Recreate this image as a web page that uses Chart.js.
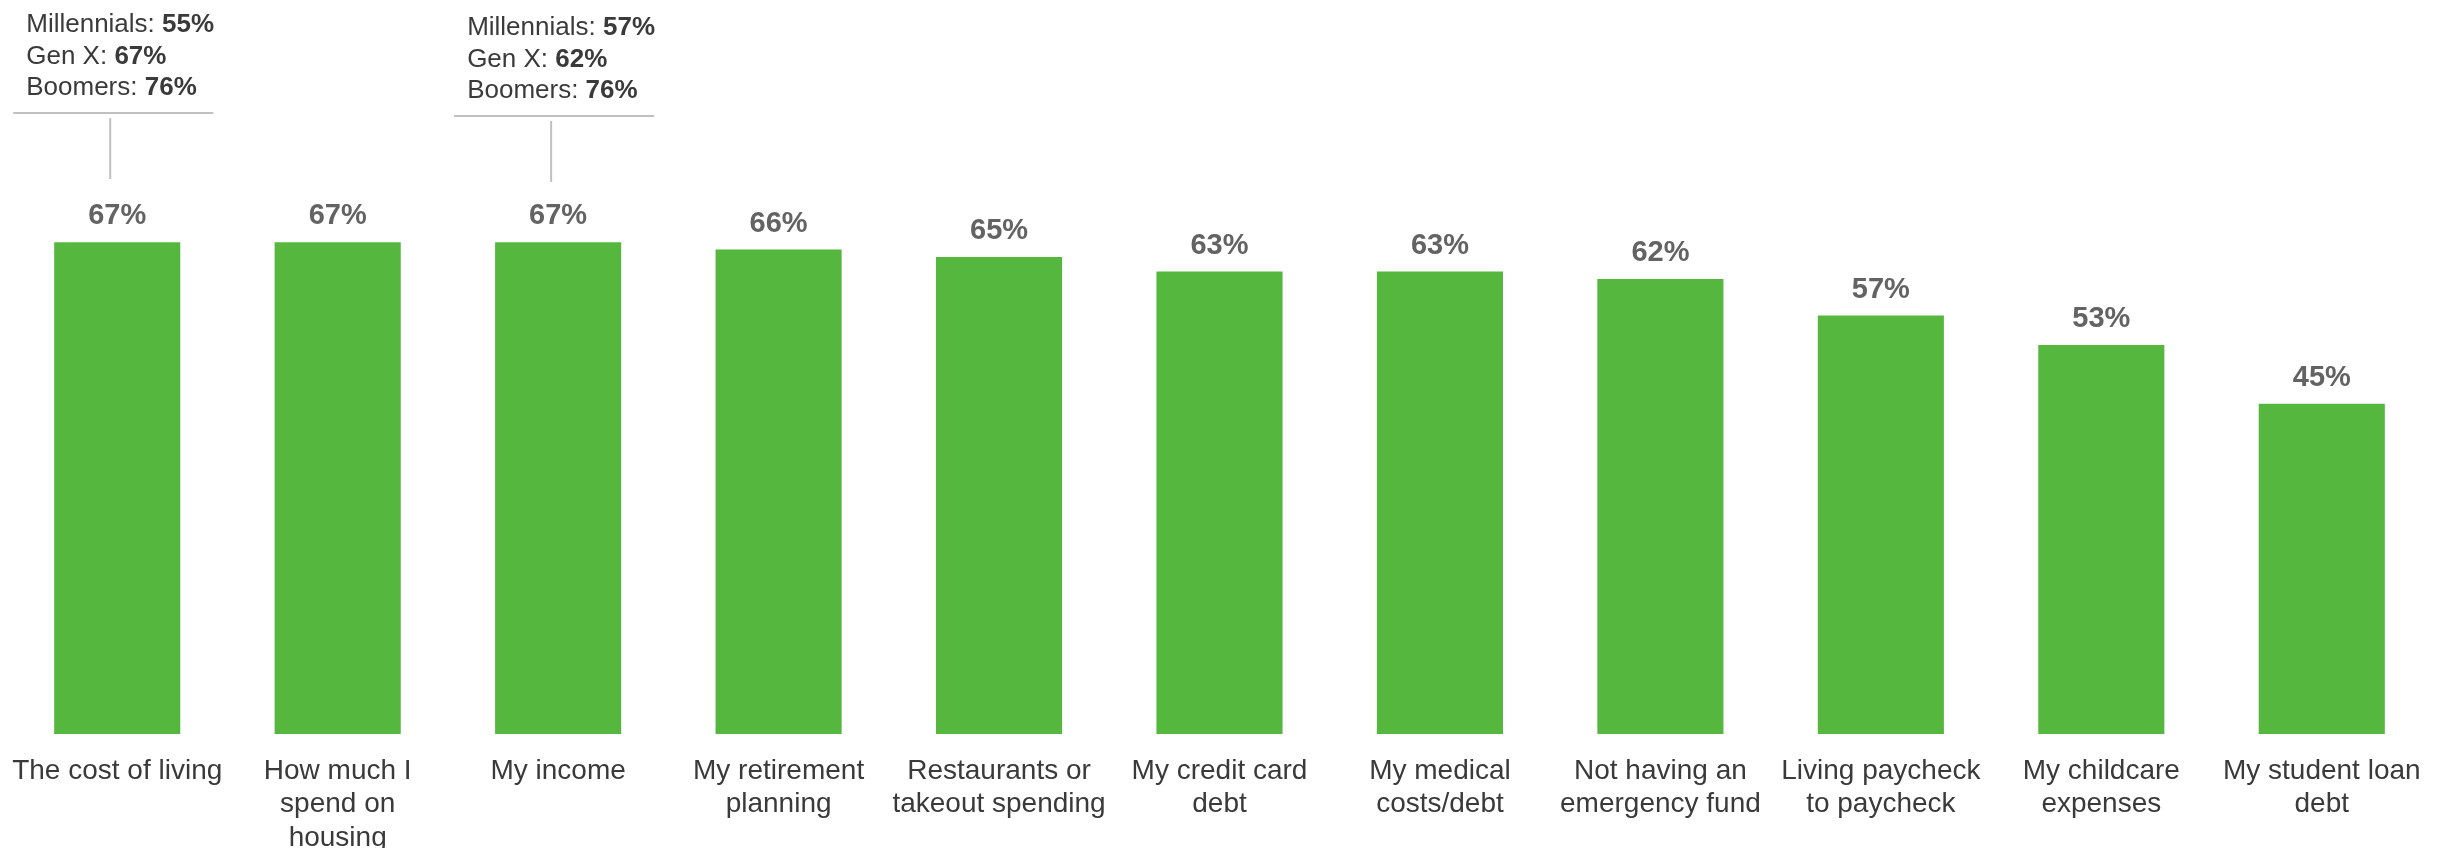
<!DOCTYPE html>
<html>
<head>
<meta charset="utf-8">
<script src="https://cdn.jsdelivr.net/npm/chart.js@4.4.1/dist/chart.umd.min.js"></script>
<style>
  body { margin: 0; background: #fff; }
  #wrap { width: 2440px; height: 848px; position: relative; }
</style>
</head>
<body>
<div id="wrap"><canvas id="barChart"></canvas></div>
<script>
const categories = [
  "The cost of living",
  ["How much I", "spend on", "housing"],
  "My income",
  ["My retirement", "planning"],
  ["Restaurants or", "takeout spending"],
  ["My credit card", "debt"],
  ["My medical", "costs/debt"],
  ["Not having an", "emergency fund"],
  ["Living paycheck", "to paycheck"],
  ["My childcare", "expenses"],
  ["My student loan", "debt"]
];
const values = [67, 67, 67, 66, 65, 63, 63, 62, 57, 53, 45];

const generations = ["Millennials", "Gen X", "Boomers"];
const costOfLivingByGen = [55, 67, 76];
const incomeByGen = [57, 62, 76];
// which bar each callout belongs to
const callouts = [
  { index: 0, values: costOfLivingByGen, shift: 0 },
  { index: 2, values: incomeByGen, shift: 3 }
];

const FONT = "'Liberation Sans', Arial, sans-serif";

const valueLabels = {
  id: "valueLabels",
  afterDatasetsDraw(chart) {
    const ctx = chart.ctx;
    const meta = chart.getDatasetMeta(0);
    ctx.save();
    ctx.font = "bold 29px " + FONT;
    ctx.fillStyle = "#636363";
    ctx.textAlign = "center";
    ctx.textBaseline = "alphabetic";
    meta.data.forEach((bar, i) => {
      ctx.fillText(values[i] + "%", bar.x, bar.y - 18);
    });
    ctx.restore();
  }
};

const calloutPlugin = {
  id: "callouts",
  afterDraw(chart) {
    const ctx = chart.ctx;
    const meta = chart.getDatasetMeta(0);
    ctx.save();
    callouts.forEach(c => {
      const cx = meta.data[c.index].x;
      const s = c.shift;
      ctx.textAlign = "left";
      ctx.textBaseline = "alphabetic";
      ctx.fillStyle = "#3a3a3a";
      generations.forEach((g, i) => {
        const y = 32 + i * 31.7 + s;
        const x = cx - 91;
        ctx.font = "26px " + FONT;
        const lead = g + ": ";
        ctx.fillText(lead, x, y);
        const w = ctx.measureText(lead).width;
        ctx.font = "bold 26px " + FONT;
        ctx.fillText(c.values[i] + "%", x + w, y);
      });
      ctx.strokeStyle = "#c0c0c0";
      ctx.lineWidth = 2;
      ctx.beginPath();
      ctx.moveTo(cx - 104, 113 + s);
      ctx.lineTo(cx + 96, 113 + s);
      ctx.moveTo(cx - 7, 118 + s);
      ctx.lineTo(cx - 7, 179 + s);
      ctx.stroke();
    });
    ctx.restore();
  }
};

new Chart(document.getElementById("barChart"), {
  type: "bar",
  data: {
    labels: categories,
    datasets: [{
      data: values,
      backgroundColor: "#55b73e",
      barPercentage: 0.572,
      categoryPercentage: 1.0
    }]
  },
  options: {
    responsive: true,
    maintainAspectRatio: false,
    animation: false,
    layout: { padding: { left: 7, right: 8, top: 0, bottom: 0 } },
    plugins: {
      legend: { display: false },
      tooltip: { enabled: false }
    },
    scales: {
      x: {
        grid: { display: false, drawTicks: false },
        border: { display: false },
        afterFit(scale) {
          scale.height = 114;
          // labels may overhang the edges, like in the original
          scale.paddingLeft = 0;
          scale.paddingRight = 0;
        },
        ticks: {
          color: "#3a3a3a",
          font: { family: FONT, size: 28, lineHeight: 1.2 },
          padding: 20,
          autoSkip: false,
          maxRotation: 0,
          minRotation: 0
        }
      },
      y: {
        display: false,
        min: 0,
        max: 100
      }
    }
  },
  plugins: [valueLabels, calloutPlugin]
});
</script>
</body>
</html>
